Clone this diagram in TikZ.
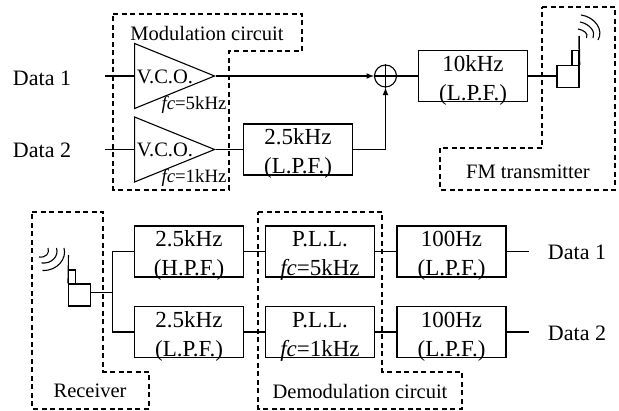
\documentclass[tikz,border=0pt]{standalone}
\usepackage{fontspec}
\setmainfont{Liberation Serif}
\usetikzlibrary{shapes.geometric}
\tikzset{every picture/.style={x=1pt,y=-1pt,>=latex,line width=1.1pt}}
\tikzset{filterbox/.style={draw,minimum width=109,minimum height=51,inner sep=0pt,align=center,text height=49pt,text depth=0pt,font=\fontsize{23}{29}\selectfont}}
\tikzset{vcotri/.style={draw,isosceles triangle,isosceles triangle stretches,inner sep=0pt,minimum width=65,minimum height=80,anchor=lower side}}
\tikzset{region/.style={draw,dashed,line width=1.2pt,dash pattern=on 5pt off 3.5pt}}
\tikzset{txt/.style={inner sep=0pt,font=\fontsize{20.5}{24}\selectfont}}
\tikzset{datatxt/.style={inner sep=0pt,font=\fontsize{22}{26}\selectfont}}
\tikzset{fctxt/.style={inner sep=0pt,font=\fontsize{18.8}{22}\selectfont}}
\begin{document}
\begin{tikzpicture}
      \useasboundingbox (0,0) rectangle (619,411);
      % transmitter side
      \node[datatxt] (D1) at (42,78) {Data 1};
      \node[datatxt] (D2) at (42,150) {Data 2};
      \coordinate (D1e) at (105,76);
      \coordinate (D2e) at (105,149.5);
      \node[vcotri] (V1) at (134,76) {};
      \node[vcotri] (V2) at (134,149.5) {};
      \node[txt] (V1t) at (165,77) {V.C.O.};
      \node[txt] (V2t) at (165,150) {V.C.O.};
      \node[fctxt] (V1f) at (194,105) {\textit{fc}=5kHz};
      \node[fctxt] (V2f) at (194,178) {\textit{fc}=1kHz};
      \node[filterbox] (F1) at (298,149.5) {2.5kHz\\(L.P.F.)};
      \node[filterbox] (F2) at (473,76) {10kHz\\(L.P.F.)};
      \node[draw,circle,minimum size=22,inner sep=0pt] (S) at (385.5,76) {};
      \draw (S.north) -- (S.south);
      \draw (S.west) -- (S.east);
      \node[draw,minimum size=22,inner sep=0pt] (TX) at (568,76.5) {};
      \node[draw,minimum width=7,minimum height=15,inner sep=0pt] (TXs) at (575.5,58) {};
      \coordinate (TXa) at (579,36);
      \draw (D1e) -- (V1.lower side);
      \draw (D2e) -- (V2.lower side);
      \draw[->,line width=1.5pt] (V1.apex) -- (S.west);
      \draw (V2.apex) -- (F1.west);
      \draw[->,line width=1.6pt] (F1.east) -| (S.south);
      \draw (S.east) -- (F2.west);
      \draw (F2.east) -- (TX.west |- F2.east);
      \draw[line width=1.5pt] (TX.north east) -- (TXa);
      \draw (581,15) .. controls (595,17) and (604,30) .. (598,40);
      \draw (580,22) .. controls (590,24) and (596,32) .. (593,38);
      \draw (578,29) .. controls (583,30) and (589,33) .. (586.5,38);
      \draw[region] (113,14) -- (302,14) -- (302,51) -- (229,51) -- (229,190) -- (113,190) -- cycle;
      \draw[region] (542,7) -- (615,7) -- (615,190) -- (440,190) -- (440,148) -- (542,148) -- cycle;
      \node[txt] (MC) at (207,33) {Modulation circuit};
      \node[txt] (FM) at (528,172) {FM transmitter};
      % receiver side
      \node[draw,minimum size=22,inner sep=0pt] (RX) at (79.5,295) {};
      \node[draw,minimum width=7,minimum height=14,inner sep=0pt] (RXs) at (72,277) {};
      \coordinate (RXa) at (68.5,255);
      \coordinate (J) at (112.5,292.5);
      \node[filterbox] (H) at (189,251.5) {2.5kHz\\(H.P.F.)};
      \node[filterbox] (L) at (189,332) {2.5kHz\\(L.P.F.)};
      \node[filterbox] (P1) at (320,251.5) {P.L.L.\\\textit{fc}=5kHz};
      \node[filterbox] (P2) at (320,332) {P.L.L.\\\textit{fc}=1kHz};
      \node[filterbox] (O1) at (451.5,251.5) {100Hz\\(L.P.F.)};
      \node[filterbox] (O2) at (451.5,332) {100Hz\\(L.P.F.)};
      \node[datatxt] (R1) at (577,252) {Data 1};
      \node[datatxt] (R2) at (577,333) {Data 2};
      \coordinate (R1e) at (529,251.5);
      \coordinate (R2e) at (529,332);
      \draw (RX.north west) -- (RXa);
      \draw (RX.east |- J) -- (J);
      \draw (J) |- (H.west);
      \draw (J) |- (L.west);
      \draw (H.east) -- (P1.west);
      \draw (L.east) -- (P2.west);
      \draw (P1.east) -- (O1.west);
      \draw (P2.east) -- (O2.west);
      \draw (O1.east) -- (R1e);
      \draw (O2.east) -- (R2e);
      \draw (64,248) .. controls (67,258) and (58,271) .. (42.5,270.5);
      \draw (56.5,248) .. controls (59,256) and (52,264) .. (41.5,263);
      \draw (48,248) .. controls (50,253) and (46,258) .. (39,257);
      \draw[region] (32,212) -- (103,212) -- (103,372) -- (149,372) -- (149,409) -- (32,409) -- cycle;
      \draw[region] (258,212) -- (382,212) -- (382,372) -- (462,372) -- (462,409) -- (258,409) -- cycle;
      \node[txt] (RC) at (90,391) {Receiver};
      \node[txt] (DC) at (360,391) {Demodulation circuit};
\end{tikzpicture}
\end{document}
